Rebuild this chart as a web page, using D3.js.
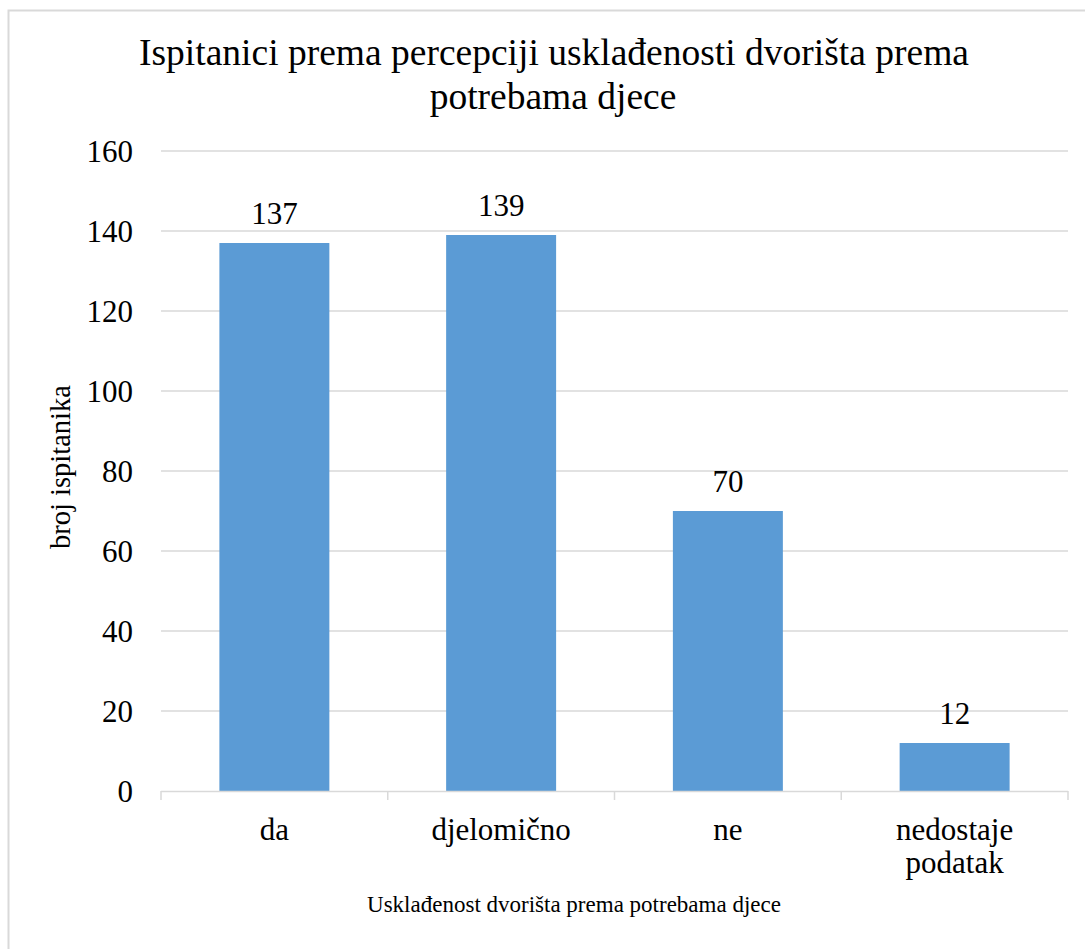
<!DOCTYPE html>
<html>
<head>
<meta charset="utf-8">
<script src="https://cdn.jsdelivr.net/npm/d3@7"></script>
<style>
  body { margin: 0; background: #fff; }
</style>
</head>
<body>
<svg id="chart" width="1085" height="949"></svg>
<script>
var categories = [["da"], ["djelomično"], ["ne"], ["nedostaje", "podatak"]];
var values = [137, 139, 70, 12];
var yTicks = [0, 20, 40, 60, 80, 100, 120, 140, 160];
var titleLines = ["Ispitanici prema percepciji usklađenosti dvorišta prema", "potrebama djece"];
var yTitle = "broj ispitanika";
var xTitle = "Usklađenost dvorišta prema potrebama djece";

var fontStack = "'Liberation Serif', 'Times New Roman', Tinos";

var svg = d3.select("#chart");

// chart border (right / bottom edges run off the picture)
svg.append("rect")
   .attr("x", 8.5).attr("y", 10.5)
   .attr("width", 1100).attr("height", 1000)
   .attr("fill", "#fff")
   .attr("stroke", "#d9d9d9")
   .attr("stroke-width", 2);

var plotLeft = 161, plotRight = 1068, plotTop = 151, plotBottom = 791;

var keys = categories.map(function(c) { return c.join(" "); });
var x = d3.scaleBand().domain(keys).range([plotLeft, plotRight]).paddingInner(0.515).paddingOuter(0.2575);
var xb = d3.scaleBand().domain(keys).range([plotLeft, plotRight]);
var y = d3.scaleLinear().domain([0, 160]).range([plotBottom, plotTop]);

function txt(sel) {
  return sel.style("font-family", fontStack).attr("fill", "#000");
}

// gridlines
svg.append("g").selectAll("line")
   .data(yTicks.filter(function(d) { return d > 0; }))
   .enter().append("line")
   .attr("x1", plotLeft).attr("x2", plotRight)
   .attr("y1", function(d) { return y(d); })
   .attr("y2", function(d) { return y(d); })
   .attr("stroke", "#d9d9d9")
   .attr("stroke-width", 1.3);

// y tick labels
svg.append("g").selectAll("text")
   .data(yTicks)
   .enter().append("text")
   .call(txt)
   .attr("x", 133)
   .attr("y", function(d) { return y(d) + 10.5; })
   .attr("text-anchor", "end")
   .attr("font-size", 31)
   .text(function(d) { return d; });

// bars
svg.append("g").selectAll("rect")
   .data(values)
   .enter().append("rect")
   .attr("x", function(d, i) { return x(keys[i]); })
   .attr("width", x.bandwidth())
   .attr("y", function(d) { return y(d); })
   .attr("height", function(d) { return y(0) - y(d); })
   .attr("fill", "#5b9bd5");

// value labels
svg.append("g").selectAll("text")
   .data(values)
   .enter().append("text")
   .call(txt)
   .attr("x", function(d, i) { return x(keys[i]) + x.bandwidth() / 2; })
   .attr("y", function(d) { return y(d) - 19; })
   .attr("text-anchor", "middle")
   .attr("font-size", 31)
   .text(function(d) { return d; });

// x axis line and ticks
svg.append("line")
   .attr("x1", plotLeft).attr("x2", plotRight)
   .attr("y1", plotBottom + 0.5).attr("y2", plotBottom + 0.5)
   .attr("stroke", "#d9d9d9").attr("stroke-width", 1.5);

var bounds = keys.map(function(k) { return xb(k); }).concat([plotRight]);
svg.append("g").selectAll("line")
   .data(bounds)
   .enter().append("line")
   .attr("x1", function(d) { return d; }).attr("x2", function(d) { return d; })
   .attr("y1", plotBottom).attr("y2", plotBottom + 9)
   .attr("stroke", "#d9d9d9").attr("stroke-width", 1.5);

// category labels
var cat = svg.append("g").selectAll("text")
   .data(categories)
   .enter().append("text")
   .call(txt)
   .attr("text-anchor", "middle")
   .attr("font-size", 31)
   .attr("x", function(d, i) { return x(keys[i]) + x.bandwidth() / 2; })
   .attr("y", 840);
cat.selectAll("tspan")
   .data(function(d, i) { return d.map(function(t) { return { t: t, i: i }; }); })
   .enter().append("tspan")
   .attr("x", function(d) { return x(keys[d.i]) + x.bandwidth() / 2; })
   .attr("dy", function(d, j) { return j === 0 ? 0 : 33; })
   .text(function(d) { return d.t; });

// chart title
svg.append("text").call(txt)
   .attr("x", 554).attr("y", 65)
   .attr("text-anchor", "middle")
   .attr("font-size", 37.5)
   .text(titleLines[0]);
svg.append("text").call(txt)
   .attr("x", 553).attr("y", 109)
   .attr("text-anchor", "middle")
   .attr("font-size", 37.5)
   .text(titleLines[1]);

// axis titles
svg.append("text").call(txt)
   .attr("transform", "translate(70,467) rotate(-90)")
   .attr("text-anchor", "middle")
   .attr("font-size", 28.5)
   .text(yTitle);

svg.append("text").call(txt)
   .attr("x", 574).attr("y", 912)
   .attr("text-anchor", "middle")
   .attr("font-size", 23)
   .text(xTitle);
</script>
</body>
</html>
